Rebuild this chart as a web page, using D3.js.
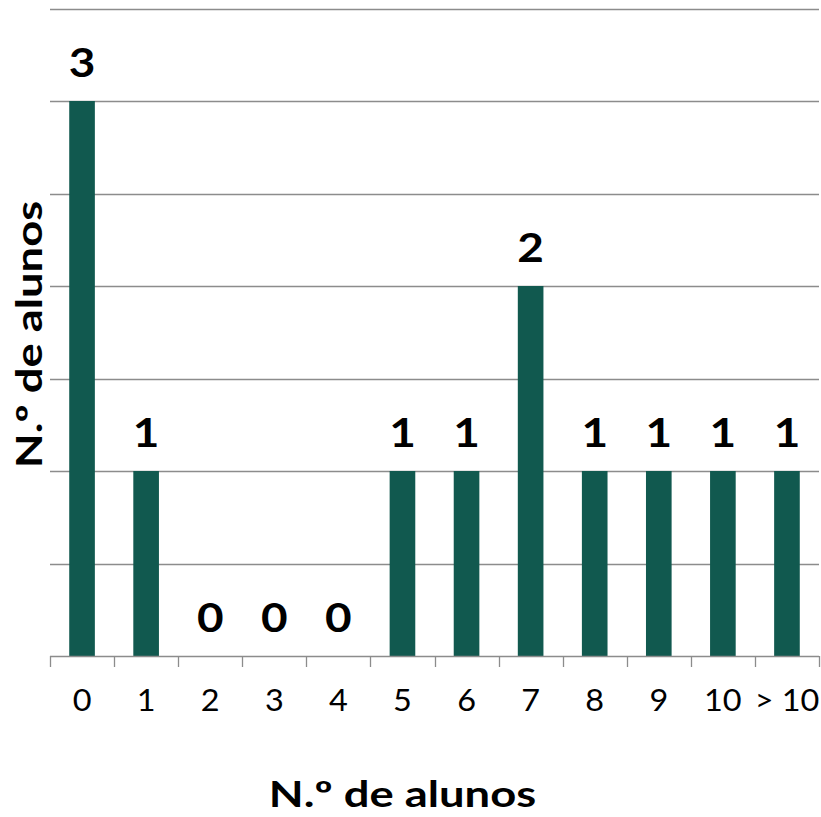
<!DOCTYPE html>
<html><head><meta charset="utf-8">
<script src="https://cdn.jsdelivr.net/npm/d3@7"></script>
<style>html,body{margin:0;padding:0;background:#fff;}</style>
</head><body>
<script>
const categories = ["0","1","2","3","4","5","6","7","8","9","10","> 10"];
const values = [3,1,0,0,0,1,1,2,1,1,1,1];
const yTicks = [0,0.5,1,1.5,2,2.5,3,3.5];
const xTitle = "N.º de alunos";
const yTitle = "N.º de alunos";

const W = 821, H = 817;
const svg = d3.select("body").append("svg").attr("width", W).attr("height", H);
const font = "Lato, 'Open Sans', sans-serif";

const x = d3.scaleBand().domain(categories).range([50, 819]).paddingInner(0.6).paddingOuter(0.3);
const y = d3.scaleLinear().domain([0, 3.5]).range([656, 8.5]);

// gridlines
svg.append("g").selectAll("line").data(yTicks.slice(1)).join("line")
  .attr("x1", 50).attr("x2", 819)
  .attr("y1", d => Math.round(y(d)) + 0.5).attr("y2", d => Math.round(y(d)) + 0.5)
  .attr("stroke", "#8c8c8c").attr("stroke-width", 1.3);

// bars
svg.append("g").selectAll("rect").data(values).join("rect")
  .attr("x", (d, i) => x(categories[i]))
  .attr("width", x.bandwidth())
  .attr("y", d => y(d))
  .attr("height", d => y(0) - y(d))
  .attr("fill", "#11594f");

// x axis
const xb = d3.scalePoint().domain(d3.range(13)).range([50, 819]);
const ax = svg.append("g");
ax.append("line").attr("x1", 50).attr("x2", 819).attr("y1", 656.5).attr("y2", 656.5)
  .attr("stroke", "#8c8c8c").attr("stroke-width", 1.3);
ax.selectAll("line.t").data(d3.range(13)).join("line").attr("class", "t")
  .attr("x1", d => Math.round(xb(d)) + 0.5).attr("x2", d => Math.round(xb(d)) + 0.5)
  .attr("y1", 656).attr("y2", 667)
  .attr("stroke", "#8c8c8c").attr("stroke-width", 1.3);
ax.selectAll("text").data(categories).join("text")
  .attr("transform", d => `translate(${x(d) + x.bandwidth() / 2},711) scale(1.08,1)`)
  .attr("text-anchor", "middle")
  .attr("font-family", font).attr("font-size", 30).attr("fill", "#000")
  .text(d => d);

// data labels
svg.append("g").selectAll("text").data(values).join("text")
  .attr("transform", (d, i) => `translate(${x(categories[i]) + x.bandwidth() / 2},${y(d) - 24}) scale(1.12,1)`)
  .attr("text-anchor", "middle")
  .attr("font-family", font).attr("font-size", 41).attr("font-weight", "bold").attr("fill", "#000")
  .text(d => d);

// titles
svg.append("text").attr("transform", "translate(402.5,807) scale(1.26,1)").attr("text-anchor", "middle")
  .attr("font-family", font).attr("font-size", 36).attr("font-weight", "bold").text(xTitle);
svg.append("text").attr("transform", "translate(42,334.5) rotate(-90) scale(1.26,1)").attr("text-anchor", "middle")
  .attr("font-family", font).attr("font-size", 36).attr("font-weight", "bold").text(yTitle);
</script>
</body></html>
